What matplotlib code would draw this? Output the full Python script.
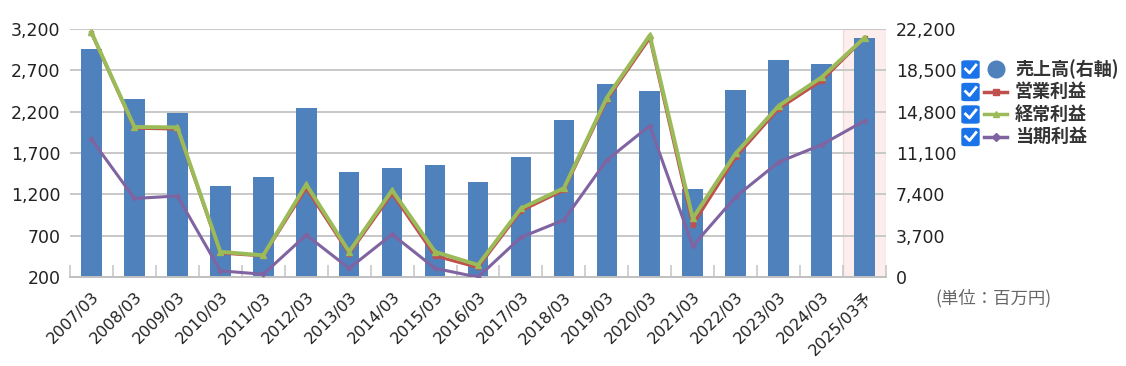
import matplotlib
matplotlib.use("Agg")
import matplotlib.pyplot as plt
import numpy as np
from matplotlib.lines import Line2D
from matplotlib.patches import FancyBboxPatch

# --- data ---
periods = ["2007/03", "2008/03", "2009/03", "2010/03", "2011/03", "2012/03",
           "2013/03", "2014/03", "2015/03", "2016/03", "2017/03", "2018/03",
           "2019/03", "2020/03", "2021/03", "2022/03", "2023/03", "2024/03",
           "2025/03予"]
sales = [20450, 15900, 14700, 8150, 8950, 15100, 9370, 9750, 10030, 8540,
         10700, 14050, 17280, 16620, 7880, 16740, 19430, 19040, 21420]
operating = [3150, 2000, 1990, 490, 455, 1275, 480, 1210, 455, 315,
             1000, 1250, 2340, 3090, 830, 1650, 2235, 2575, 3090]
ordinary = [3160, 2015, 2010, 505, 462, 1320, 505, 1250, 505, 345,
            1030, 1275, 2370, 3125, 910, 1695, 2270, 2615, 3095]
net = [1865, 1150, 1180, 275, 233, 708, 305, 716, 305, 198,
       680, 890, 1615, 2030, 575, 1170, 1590, 1800, 2090]

left_ticks = [200, 700, 1200, 1700, 2200, 2700, 3200]
right_ticks = [0, 3700, 7400, 11100, 14800, 18500, 22200]

W, H = 1126, 366
FONT = ["DejaVu Sans", "Noto Sans CJK JP"]
JP = ["Noto Sans CJK JP", "DejaVu Sans"]
plt.rcParams["font.family"] = FONT

fig = plt.figure(figsize=(W / 100, H / 100), dpi=100)
ax = fig.add_axes([70 / W, 1 - 277 / H, 816 / W, 248 / H])
x = np.arange(len(periods))

# bars on right axis scale (drawn first so lines sit on top)
ax.axvspan(len(periods) - 1.5, len(periods) - 0.5, facecolor="#fdeeee",
           edgecolor="#f6d8d8", lw=1, zorder=0)
ax.bar(x, sales, width=0.48, color="#4f81bd", zorder=2)
ax.set_ylim(0, 22200)
ax.set_yticks(right_ticks)
ax.set_yticklabels([f"{v:,}" for v in right_ticks])
ax.grid(axis="y", color="#c8c8c8", lw=1.4, zorder=1)
ax.set_axisbelow(True)

ax2 = ax.twinx()
ax.yaxis.tick_right()
ax2.yaxis.tick_left()
ax2.plot(x, operating, color="#c0504d", lw=2.2, marker="s", ms=3.5, zorder=3)
ax2.plot(x, ordinary, color="#9bbb59", lw=2.8, marker="^", ms=5, zorder=4)
ax2.plot(x, net, color="#8064a2", lw=2.2, marker="D", ms=2.5, zorder=3)
ax2.set_ylim(200, 3200)
ax2.set_yticks(left_ticks)
ax2.set_yticklabels([f"{v:,}" for v in left_ticks])

ax.set_xlim(-0.5, len(periods) - 0.5)
ax.set_xticks(x)
ax.set_xticklabels(periods, rotation=45, ha="right", rotation_mode="anchor",
                   fontsize=11.5, color="#222222")
ax.set_xticks(np.arange(-0.5, len(periods)), minor=True)
ax.tick_params(axis="x", which="major", length=0, pad=9)
ax.tick_params(axis="x", which="minor", direction="in", length=9,
               color="#c8c8c8", width=1.2)

for a in (ax, ax2):
    a.tick_params(axis="y", length=0, labelsize=12.5, labelcolor="#222222", pad=7)
    for s in ("top", "left", "right"):
        a.spines[s].set_visible(False)
    a.spines["bottom"].set_color("#c0c0c0")
    a.spines["bottom"].set_linewidth(1.4)
ax2.spines["bottom"].set_visible(False)


# --- legend with checkbox look, placed in figure pixels ---
def fx(px):
    return px / W


def fy(py):
    return 1 - py / H


labels = ["売上高(右軸)", "営業利益", "経常利益", "当期利益"]
colors = ["#4f81bd", "#c0504d", "#9bbb59", "#8064a2"]
markers = [None, "s", "^", "D"]
rows = [69, 91.5, 114, 136.5]
for lab, col, mk, ry in zip(labels, colors, markers, rows):
    box = FancyBboxPatch((fx(962), fy(ry + 9)), fx(17), 17 / H,
                         boxstyle="round,pad=0,rounding_size=0.003",
                         transform=fig.transFigure, facecolor="#1a73e8",
                         edgecolor="#1a73e8")
    fig.add_artist(box)
    fig.add_artist(Line2D([fx(965.5), fx(969.5), fx(976)],
                          [fy(ry), fy(ry + 4), fy(ry - 4)],
                          transform=fig.transFigure, color="white", lw=2))
    if mk is None:
        fig.add_artist(Line2D([fx(996)], [fy(ry)], transform=fig.transFigure,
                              color=col, marker="o", ms=13, mew=0))
    else:
        fig.add_artist(Line2D([fx(984), fx(1007)], [fy(ry), fy(ry)],
                              transform=fig.transFigure, color=col, lw=2.5))
        fig.add_artist(Line2D([fx(995.5)], [fy(ry)], transform=fig.transFigure,
                              color=col, marker=mk, ms=4.5))
    fig.text(fx(1015), fy(ry), lab, family=JP, fontsize=13, fontweight="bold",
             color="#333333", va="center", ha="left")

fig.text(fx(935), fy(298), "(単位：百万円)", family=JP, fontsize=12.5,
         color="#666666", va="center", ha="left")

fig.savefig("out.png", dpi=100)
